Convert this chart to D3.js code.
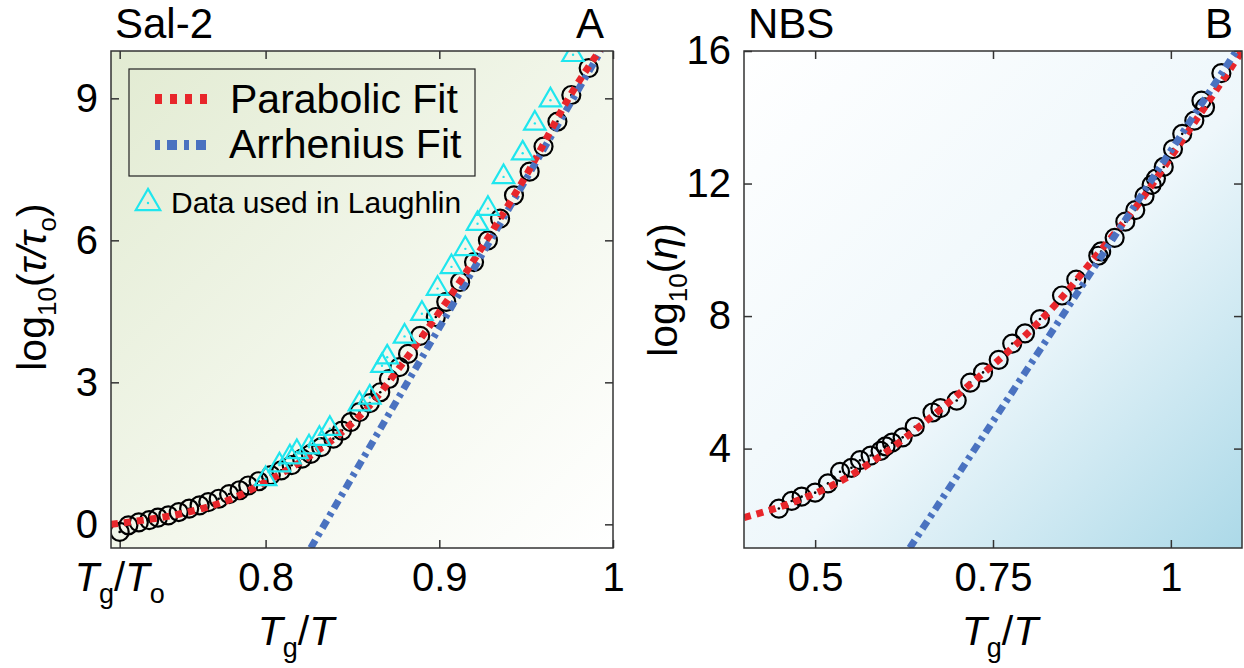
<!DOCTYPE html>
<html>
<head>
<meta charset="utf-8">
<script src="https://cdn.jsdelivr.net/npm/d3@7"></script>
<style>
  body { margin: 0; background: #fff; }
  text { font-family: "Liberation Sans", Arial, Helvetica, sans-serif; fill: #000; }
</style>
</head>
<body>
<div id="chart"></div>
<script>
// ---- Sal-2 (panel A) ----
var sal2X = [0.716,0.721,0.727,0.733,0.738,0.744,0.750,0.756,0.762,0.767,0.773,0.779,0.785,0.790,0.796,
             0.803,0.809,0.815,0.821,0.826,0.832,0.839,0.844,0.849,0.854,0.860,0.866,0.871,0.877,0.882,
             0.889,0.898,0.904,0.912,0.920,0.928,0.935,0.943,0.952,0.960,0.968,0.976,0.986];
var sal2Y = [-0.16,-0.02,0.04,0.09,0.14,0.19,0.26,0.33,0.40,0.47,0.54,0.64,0.72,0.82,0.91,
             1.04,1.14,1.25,1.39,1.49,1.63,1.81,1.98,2.16,2.37,2.56,2.79,3.07,3.32,3.60,
             3.98,4.38,4.70,5.12,5.54,6.00,6.46,6.95,7.45,7.98,8.51,9.07,9.64];
var laughlinX = [0.800,0.808,0.814,0.818,0.825,0.831,0.837,0.854,0.860,0.867,0.870,0.880,
                 0.890,0.899,0.907,0.915,0.922,0.928,0.937,0.948,0.955,0.964,0.977];
var laughlinY = [0.96,1.25,1.42,1.53,1.63,1.81,2.02,2.54,2.68,3.35,3.53,3.97,
                 4.45,4.98,5.44,5.82,6.35,6.67,7.34,7.84,8.47,8.96,9.92];
var parabolicAX = [0.711,0.730,0.747,0.765,0.780,0.795,0.812,0.829,0.844,0.860,0.875,0.889,0.905,0.928,0.952,0.976,0.993];
var parabolicAY = [0.00,0.09,0.19,0.35,0.53,0.80,1.14,1.53,1.95,2.51,3.21,3.91,4.75,6.05,7.50,9.10,10.05];
var arrheniusAX = [0.826,0.993];
var arrheniusAY = [-0.5,10.0];
var xTicksA = [0.716,0.8,0.9,1.0];
var xTickLabelsA = ["", "0.8", "0.9", "1"];
var yTicksA = [0,3,6,9];

// ---- NBS (panel B) ----
var nbsX = [0.449,0.467,0.481,0.500,0.518,0.535,0.551,0.563,0.578,0.592,0.599,0.608,0.623,0.640,
            0.665,0.676,0.699,0.718,0.736,0.758,0.777,0.795,0.816,0.847,0.867,0.898,0.902,0.921,
            0.936,0.950,0.963,0.973,0.979,0.990,1.003,1.016,1.033,1.043,1.048,1.071];
var nbsY = [2.19,2.42,2.55,2.67,2.95,3.30,3.42,3.65,3.79,3.93,4.07,4.18,4.34,4.66,
            5.09,5.22,5.45,5.99,6.30,6.68,7.17,7.48,7.91,8.62,9.10,9.82,9.95,10.36,
            10.85,11.20,11.62,11.96,12.15,12.50,13.04,13.50,13.90,14.50,14.30,15.33];
var parabolicBX = [0.40,0.48,0.54,0.60,0.66,0.72,0.78,0.84,0.90,0.96,1.00,1.06,1.10];
var parabolicBY = [1.92,2.47,3.07,3.90,4.90,5.98,7.10,8.40,9.95,11.55,12.80,14.70,16.00];
var arrheniusBX = [0.633,1.092];
var arrheniusBY = [1.0,16.0];
var xTicksB = [0.5,0.75,1.0];
var yTicksB = [4,8,12,16];

var W = 1244, H = 668;
var RED = "#e8262b", BLUE = "#4a72c0", CYAN = "#1fe6ee";

var svg = d3.select("#chart").append("svg")
    .attr("width", W)
    .attr("height", H);

var defs = svg.append("defs");

function gradient(id, stops) {
    var gr = defs.append("linearGradient").attr("id", id)
        .attr("x1", 0).attr("y1", 0).attr("x2", 1).attr("y2", 1);
    stops.forEach(function(s) {
        gr.append("stop").attr("offset", s[0]).attr("stop-color", s[1]);
    });
}
gradient("bgA", [["0%", "#e2ebd2"], ["55%", "#f3f7ec"], ["100%", "#ffffff"]]);
gradient("bgB", [["0%", "#ffffff"], ["55%", "#eef7fb"], ["100%", "#acd9e8"]]);

function pairs(xs, ys) {
    return xs.map(function(d, i) { return [d, ys[i]]; });
}

function drawPanel(o) {
    var g = svg.append("g");
    var x = d3.scaleLinear().domain(o.xDomain).range([o.left, o.right]);
    var y = d3.scaleLinear().domain(o.yDomain).range([o.bottom, o.top]);

    g.append("rect")
        .attr("x", o.left).attr("y", o.top)
        .attr("width", o.right - o.left).attr("height", o.bottom - o.top)
        .attr("fill", "url(#" + o.bg + ")");

    defs.append("clipPath").attr("id", o.id + "clip")
      .append("rect")
        .attr("x", o.left).attr("y", o.top)
        .attr("width", o.right - o.left).attr("height", o.bottom - o.top);

    // inner ticks on all four sides
    var bottom = g.append("g").attr("transform", "translate(0," + o.bottom + ")")
        .call(d3.axisBottom(x).tickValues(o.xTicks).tickSize(-8)
            .tickFormat(function(d, i) { return o.xLabels ? o.xLabels[i] : d3.format("~g")(d); }));
    bottom.selectAll("text").attr("y", 15).style("font-size", "40px");
    g.append("g").attr("transform", "translate(0," + o.top + ")")
        .call(d3.axisTop(x).tickValues(o.xTicks).tickSize(-8).tickFormat(""));
    var left = g.append("g").attr("transform", "translate(" + o.left + ",0)")
        .call(d3.axisLeft(y).tickValues(o.yTicks).tickSize(-8));
    left.selectAll("text").attr("x", -13).style("font-size", "40px");
    g.append("g").attr("transform", "translate(" + o.right + ",0)")
        .call(d3.axisRight(y).tickValues(o.yTicks).tickSize(-8).tickFormat(""));
    g.selectAll(".domain").remove();
    g.selectAll(".tick line").attr("stroke", "#333").attr("stroke-width", 1.5);

    var plot = g.append("g").attr("clip-path", "url(#" + o.id + "clip)");

    var circ = plot.append("g").selectAll("g")
        .data(pairs(o.dataX, o.dataY))
        .enter().append("g")
        .attr("transform", function(d) { return "translate(" + x(d[0]) + "," + y(d[1]) + ")"; });
    circ.append("circle").attr("r", 9).attr("fill", "none")
        .attr("stroke", "#000").attr("stroke-width", 2.2);
    circ.append("circle").attr("r", 1.3).attr("fill", "#000");

    var line = d3.line()
        .x(function(d) { return x(d[0]); })
        .y(function(d) { return y(d[1]); });

    var red = plot.append("path")
        .attr("d", line.curve(d3.curveMonotoneX)(pairs(o.parX, o.parY)))
        .attr("fill", "none").attr("stroke", RED)
        .attr("stroke-width", 7).attr("stroke-dasharray", "7,6");
    var blue = plot.append("path")
        .attr("d", line.curve(d3.curveLinear)(pairs(o.arrX, o.arrY)))
        .attr("fill", "none").attr("stroke", BLUE)
        .attr("stroke-width", 7).attr("stroke-dasharray", "9,5,4,5");
    if (o.redOnTop) red.raise();

    if (o.triX) {
        var tri = plot.append("g").selectAll("g")
            .data(pairs(o.triX, o.triY))
            .enter().append("g")
            .attr("transform", function(d) { return "translate(" + x(d[0]) + "," + y(d[1]) + ")"; });
        tri.append("path").attr("d", d3.symbol(d3.symbolTriangle).size(200))
            .attr("fill", "none").attr("stroke", CYAN).attr("stroke-width", 2.2);
        tri.append("circle").attr("r", 1.2).attr("fill", CYAN);
    }

    g.append("rect")
        .attr("x", o.left).attr("y", o.top)
        .attr("width", o.right - o.left).attr("height", o.bottom - o.top)
        .attr("fill", "none").attr("stroke", "#333").attr("stroke-width", 1.5);

    // titles
    g.append("text").attr("x", o.left + 4).attr("y", 38)
        .style("font-size", "42px").text(o.title);
    g.append("text").attr("x", o.right - 9).attr("y", 38)
        .attr("text-anchor", "end").style("font-size", "42px").text(o.letter);

    // x axis title: Tg/T
    var xt = g.append("text").attr("x", o.xTitleX).attr("y", 645)
        .attr("text-anchor", "middle").style("font-size", "41px");
    xt.append("tspan").style("font-style", "italic").text("T");
    xt.append("tspan").attr("dy", 12).style("font-size", "27px").text("g");
    xt.append("tspan").attr("dy", -12).text("/");
    xt.append("tspan").style("font-style", "italic").text("T");

    return {x: x, y: y, g: g};
}

var A = drawPanel({
    id: "A", bg: "bgA", title: "Sal-2", letter: "A",
    left: 111, right: 613, top: 51, bottom: 548,
    xDomain: [0.711, 1.0], yDomain: [-0.5, 10],
    xTicks: xTicksA, xLabels: xTickLabelsA, yTicks: yTicksA,
    dataX: sal2X, dataY: sal2Y,
    parX: parabolicAX, parY: parabolicAY,
    arrX: arrheniusAX, arrY: arrheniusAY,
    triX: laughlinX, triY: laughlinY,
    redOnTop: true, xTitleX: 296
});

var B = drawPanel({
    id: "B", bg: "bgB", title: "NBS", letter: "B",
    left: 744, right: 1242, top: 51, bottom: 548,
    xDomain: [0.4, 1.1], yDomain: [1, 16],
    xTicks: xTicksB, yTicks: yTicksB,
    dataX: nbsX, dataY: nbsY,
    parX: parabolicBX, parY: parabolicBY,
    arrX: arrheniusBX, arrY: arrheniusBY,
    redOnTop: false, xTitleX: 1000
});

// Tg/To tick label in panel A
var tl = A.g.append("text").attr("x", A.x(xTicksA[0])).attr("y", 591)
    .attr("text-anchor", "middle").style("font-size", "40px");
tl.append("tspan").style("font-style", "italic").text("T");
tl.append("tspan").attr("dy", 12).style("font-size", "27px").text("g");
tl.append("tspan").attr("dy", -12).text("/");
tl.append("tspan").style("font-style", "italic").text("T");
tl.append("tspan").attr("dy", 12).style("font-size", "27px").text("o");

// y axis titles
var ya = A.g.append("text").attr("transform", "translate(46,287) rotate(-90)")
    .attr("text-anchor", "middle").style("font-size", "41px");
ya.append("tspan").text("log");
ya.append("tspan").attr("dy", 10).style("font-size", "26px").text("10");
ya.append("tspan").attr("dy", -10).text("(");
ya.append("tspan").style("font-style", "italic").text("\u03c4/\u03c4");
ya.append("tspan").attr("dy", 10).style("font-size", "26px").text("o");
ya.append("tspan").attr("dy", -10).text(")");

var yb = B.g.append("text").attr("transform", "translate(677,290) rotate(-90)")
    .attr("text-anchor", "middle").style("font-size", "41px");
yb.append("tspan").text("log");
yb.append("tspan").attr("dy", 10).style("font-size", "26px").text("10");
yb.append("tspan").attr("dy", -10).text("(");
yb.append("tspan").style("font-style", "italic").text("\u03b7");
yb.append("tspan").text(")");

// legend (panel A)
var leg = A.g.append("g");
leg.append("rect").attr("x", 129).attr("y", 69).attr("width", 346).attr("height", 107)
    .attr("fill", "none").attr("stroke", "#222").attr("stroke-width", 1.2);
leg.append("line").attr("x1", 155).attr("x2", 210).attr("y1", 99).attr("y2", 99)
    .attr("stroke", RED).attr("stroke-width", 10).attr("stroke-dasharray", "7,8");
leg.append("line").attr("x1", 155).attr("x2", 210).attr("y1", 145).attr("y2", 145)
    .attr("stroke", BLUE).attr("stroke-width", 10).attr("stroke-dasharray", "5,7,10,7");
leg.append("text").attr("x", 230).attr("y", 113).style("font-size", "41px").text("Parabolic Fit");
leg.append("text").attr("x", 229).attr("y", 158).style("font-size", "41px").text("Arrhenius Fit");
leg.append("path").attr("transform", "translate(148,203)")
    .attr("d", d3.symbol(d3.symbolTriangle).size(260))
    .attr("fill", "none").attr("stroke", CYAN).attr("stroke-width", 2.2);
leg.append("circle").attr("cx", 148).attr("cy", 203).attr("r", 1.2).attr("fill", CYAN);
leg.append("text").attr("x", 171).attr("y", 213).style("font-size", "30px").text("Data used in Laughlin");
</script>
</body>
</html>
